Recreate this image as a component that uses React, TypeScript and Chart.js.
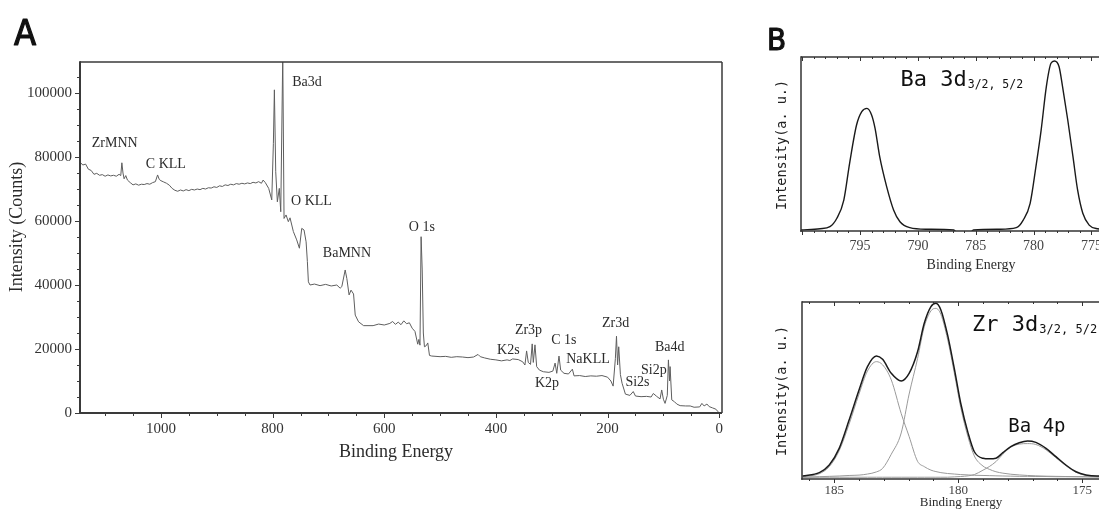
import React, { useEffect, useRef } from "react";
import { Chart, registerables } from "chart.js";

Chart.register(...registerables);

const SERIF = '"Liberation Serif", "Times New Roman", serif';
const MONO = '"DejaVu Sans Mono", "Liberation Mono", monospace';
const LETTER = '"Liberation Sans Narrow", "DejaVu Sans Condensed", "Liberation Sans", sans-serif';

// ---------------- Panel A : survey spectrum ----------------
const surveyEnergy = [
  1145, 1140, 1135, 1130, 1125, 1120, 1115, 1110, 1105, 1100, 1095, 1090, 1085, 1080, 1075, 1072, 1070, 1068, 1066, 1063,
  1060, 1055, 1050, 1045, 1040, 1035, 1030, 1025, 1020, 1015, 1010, 1006, 1003, 1000, 995, 990, 985, 980, 975, 970,
  965, 960, 955, 950, 945, 940, 935, 930, 925, 920, 915, 910, 905, 900, 895, 890, 885, 880, 875, 870,
  865, 860, 855, 850, 845, 840, 835, 830, 825, 820, 817, 813, 807, 801.5, 798.6, 796.8, 794.4, 791.5, 788, 785.4,
  781.8, 779.5, 775.9, 771.8, 768.8, 762.8, 756.8, 752, 747.8, 743.7, 740, 737.7, 735.9, 733, 725, 715, 705, 695,
  685, 679, 676, 670, 667, 663, 659.5, 655, 652, 646, 637, 620, 610, 600, 590, 585, 580, 575, 570, 565,
  560, 555, 550, 545, 540, 538, 536, 534, 532, 530, 528, 525, 522, 519, 515, 500, 490, 480, 470, 460,
  450, 440, 432, 428, 420, 410, 400, 390, 380, 375, 370, 360, 352, 348, 345, 342, 338, 335, 333, 330,
  327, 322, 315, 305, 298, 294, 291, 287, 284, 278, 270, 263, 260, 250, 240, 230, 220, 210, 200, 194,
  190, 186, 184, 182, 180, 177, 174, 168, 160, 154, 150, 140, 130, 122, 118, 112, 106, 103, 100, 97,
  93, 91, 89, 88, 85, 80, 76, 70, 60, 52, 45, 35, 31, 27, 22, 18, 12, 6, 2, 0,
];
const surveyCounts = [
  78400, 77500, 77800, 76200, 75800, 74600, 74900, 74300, 74500, 74000, 74400, 74100, 74300, 74000, 74600, 74200, 78200, 75000, 73200, 74200,
  72800, 72000, 71300, 71600, 71200, 71500, 71400, 71700, 71500, 72000, 72300, 74400, 73000, 72600, 72200, 71800, 71200, 70200, 69600, 69300,
  69700, 69400, 69800, 69500, 69900, 69700, 70000, 69800, 70200, 70000, 70400, 70300, 70700, 70500, 71000, 70800, 71300, 71100, 71500, 71300,
  71700, 71500, 71800, 71600, 71900, 71700, 72100, 71900, 72300, 71800, 72800, 72000, 70200, 66600, 84300, 101000, 75400, 66000, 70200, 62900,
  112000, 60800, 61900, 59800, 61000, 56700, 54100, 51500, 57700, 57200, 53500, 47300, 41000, 40000, 40300, 39800, 40200, 39700,
  40000, 39000, 39500, 44700, 42000, 36900, 38400, 37200, 30600, 28500, 27300, 27300, 27800, 27500, 28000, 28600, 27700, 28400, 27600, 28800,
  27900, 28200, 26500, 25500, 21500, 23000, 21200, 55100, 44700, 25000, 20700, 21000, 21900, 18000, 17800, 17600, 17700, 17400, 17600, 17500,
  17300, 17500, 18300, 17600, 17200, 16800, 16600, 16300, 16600, 16400, 16900, 16700, 16000, 15000, 19400, 15800, 15200, 21600, 15800, 21300,
  14500, 13400, 12900, 12700, 13100, 15600, 12400, 17800, 13400, 12400, 12200, 13700, 11600, 11700, 11400, 11600, 11500, 11700, 11200, 10000,
  8400, 17000, 24000, 15000, 20700, 12000, 9300, 5900, 5500, 6700, 5300, 5100, 5200, 5000, 6100, 5200, 4400, 7200, 4300, 3000,
  5500, 16600, 10000, 14500, 4100, 3500, 2800, 2300, 2200, 2200, 1800, 1900, 3000, 2200, 2800, 2000, 1600, 1200, 400, 0,
];
const surveyXTicks = [1000, 800, 600, 400, 200, 0];
const surveyYTicks = [0, 20000, 40000, 60000, 80000, 100000];
const surveyPeakNames = ["Ba3d", "ZrMNN", "C KLL", "O KLL", "BaMNN", "O 1s", "K2s", "Zr3p", "C 1s", "NaKLL", "K2p", "Zr3d", "Ba4d", "Si2p", "Si2s"];
const surveyPeakEnergy = [765, 1124, 1027, 767, 710, 556, 398, 366, 301, 274, 330, 210, 115, 140, 168];
const surveyPeakCounts = [103400, 84400, 77800, 66250, 50000, 58100, 19700, 25900, 22800, 16900, 9400, 28100, 20600, 13400, 9700];

// ---------------- Panel B (top) : Ba 3d ----------------
const ba3dEnergy = [
  773.4, 774.5, 775.2, 775.75, 776.2, 776.6, 777.05, 777.5, 777.8, 778.2, 778.5, 778.9, 779.35, 779.8, 780.3, 780.9, 781.5, 782.9, 785.2, 785.5,
  786.6, 786.9, 789.25, 790.7, 791.55, 792.1, 792.7, 793.3, 793.7, 794.0, 794.4, 794.85, 795.3, 795.9, 796.4, 797.0, 797.6, 798.45, 800.1,
];
const ba3dIntensity = [
  0.008, 0.013, 0.034, 0.102, 0.236, 0.427, 0.638, 0.83, 0.944, 0.977, 0.964, 0.83, 0.58, 0.37, 0.159, 0.063, 0.019, 0.01, 0.006, -0.01,
  -0.01, 0.006, 0.01, 0.019, 0.053, 0.121, 0.255, 0.427, 0.59, 0.667, 0.705, 0.686, 0.609, 0.389, 0.178, 0.073, 0.025, 0.013, 0.006,
];
const ba3dXTicks = [795, 790, 785, 780, 775];

// ---------------- Panel B (bottom) : Zr 3d + Ba 4p ----------------
const zrEnergy = [
  173.9, 174.4, 174.85, 175.25, 175.66, 176.06, 176.46, 176.87, 177.2, 177.54, 177.88, 178.2, 178.48, 178.75, 179.0, 179.35, 179.6, 179.9, 180.16, 180.43,
  180.7, 180.9, 181.1, 181.37, 181.64, 181.98, 182.3, 182.7, 183.05, 183.3, 183.66, 184.0, 184.4, 184.8, 185.2, 185.6, 186.28,
];
const zrEnvelope = [
  0.017, 0.017, 0.023, 0.041, 0.079, 0.126, 0.173, 0.207, 0.215, 0.205, 0.183, 0.149, 0.117, 0.114, 0.117, 0.154, 0.258, 0.428, 0.625, 0.814,
  0.955, 0.993, 0.974, 0.88, 0.719, 0.597, 0.554, 0.597, 0.676, 0.695, 0.635, 0.503, 0.333, 0.173, 0.079, 0.036, 0.017,
];
const zr32Fit = [
  0.012, 0.012, 0.012, 0.013, 0.013, 0.013, 0.014, 0.014, 0.015, 0.015, 0.016, 0.017, 0.018, 0.019, 0.02, 0.021, 0.023, 0.025, 0.028, 0.031,
  0.036, 0.042, 0.05, 0.07, 0.1, 0.24, 0.37, 0.56, 0.645, 0.663, 0.61, 0.48, 0.31, 0.16, 0.07, 0.03, 0.012,
];
const zr52Fit = [
  0.012, 0.012, 0.013, 0.013, 0.014, 0.015, 0.016, 0.018, 0.02, 0.023, 0.027, 0.033, 0.041, 0.055, 0.073, 0.13, 0.235, 0.405, 0.6, 0.79,
  0.93, 0.964, 0.95, 0.86, 0.68, 0.48, 0.26, 0.14, 0.06, 0.04, 0.028, 0.022, 0.02, 0.017, 0.015, 0.013, 0.01,
];
const ba4pFit = [
  0.012, 0.013, 0.02, 0.038, 0.075, 0.12, 0.165, 0.195, 0.2, 0.197, 0.18, 0.14, 0.098, 0.07, 0.05, 0.025, 0.018, 0.014, 0.012, 0.01,
  0.01, 0.01, 0.01, 0.01, 0.01, 0.01, 0.01, 0.01, 0.01, 0.01, 0.01, 0.01, 0.01, 0.01, 0.01, 0.01, 0.01,
];
const zrXTicks = [185, 180, 175];

// ---------------- helpers ----------------
type TickSpec = { axis: "x" | "y"; side: "bottom" | "top" | "left"; step: number; major: number; majorLen: number; minorLen: number; dir: number };
type FrameSpec = { color: string; left: number; bottom: number; top: number; right: number };
type DataLabel = { text: string; x: number; y: number; font: string; color: string; sub?: string; subFont?: string; subDy?: number };
type PixLabel = {
  text: string; x: number; y: number; font: string; color: string;
  rotate?: boolean; align?: CanvasTextAlign; baseline?: CanvasTextBaseline; stroke?: number;
};

function makeOverlay(name: string, ticks: TickSpec[], frame: FrameSpec, dataLabels: DataLabel[], pixLabels: PixLabel[]) {
  return {
    id: "overlay_" + name,
    afterDraw(chart: any) {
      const { ctx, chartArea: a, scales } = chart;
      ctx.save();
      ctx.strokeStyle = frame.color;
      ctx.lineWidth = 1;
      for (const t of ticks) {
        const sc = scales[t.axis];
        const lo = Math.min(sc.min, sc.max);
        const hi = Math.max(sc.min, sc.max);
        const n0 = Math.ceil(lo / t.step - 1e-9);
        const n1 = Math.floor(hi / t.step + 1e-9);
        for (let n = n0; n <= n1; n++) {
          const v = n * t.step;
          const isMajor = Math.abs(v / t.major - Math.round(v / t.major)) < 1e-6;
          const len = isMajor ? t.majorLen : t.minorLen;
          const p = Math.round(sc.getPixelForValue(v)) + 0.5;
          ctx.beginPath();
          if (t.side === "bottom") {
            ctx.moveTo(p, a.bottom);
            ctx.lineTo(p, a.bottom + t.dir * len);
          } else if (t.side === "top") {
            ctx.moveTo(p, a.top);
            ctx.lineTo(p, a.top - t.dir * len);
          } else {
            ctx.moveTo(a.left, p);
            ctx.lineTo(a.left - t.dir * len, p);
          }
          ctx.stroke();
        }
      }
      const seg = (x1: number, y1: number, x2: number, y2: number, w: number) => {
        if (w <= 0) return;
        ctx.lineWidth = w;
        ctx.beginPath();
        ctx.moveTo(x1, y1);
        ctx.lineTo(x2, y2);
        ctx.stroke();
      };
      ctx.strokeStyle = frame.color;
      seg(a.left, a.top, a.right, a.top, frame.top);
      seg(a.right, a.top, a.right, a.bottom, frame.right);
      seg(a.left, a.top - frame.top / 2, a.left, a.bottom + frame.bottom / 2, frame.left);
      seg(a.left - frame.left / 2, a.bottom, a.right, a.bottom, frame.bottom);
      for (const l of dataLabels) {
        const px = scales.x.getPixelForValue(l.x);
        const py = scales.y.getPixelForValue(l.y);
        ctx.fillStyle = l.color;
        ctx.font = l.font;
        ctx.textAlign = "left";
        ctx.textBaseline = "middle";
        ctx.fillText(l.text, px, py);
        if (l.sub && l.subFont) {
          const w = ctx.measureText(l.text).width;
          ctx.font = l.subFont;
          ctx.fillText(l.sub, px + w + 1, py + (l.subDy || 5));
        }
      }
      for (const l of pixLabels) {
        ctx.save();
        ctx.fillStyle = l.color;
        ctx.strokeStyle = l.color;
        ctx.font = l.font;
        ctx.textAlign = l.align || "center";
        ctx.textBaseline = l.baseline || "middle";
        ctx.translate(l.x, l.y);
        if (l.rotate) ctx.rotate(-Math.PI / 2);
        ctx.fillText(l.text, 0, 0);
        if (l.stroke) {
          ctx.lineWidth = l.stroke;
          ctx.lineJoin = "round";
          ctx.strokeText(l.text, 0, 0);
        }
        ctx.restore();
      }
      ctx.restore();
    },
  };
}

function toPoints(xs: number[], ys: number[]) {
  return xs.map((x, i) => ({ x, y: ys[i] }));
}

function fixedTicks(values: number[]) {
  return (s: any) => {
    s.ticks = values.map((v) => ({ value: v }));
  };
}

function ChartCanvas(props: { left: number; top: number; width: number; height: number; build: (c: HTMLCanvasElement) => Chart }) {
  const ref = useRef<HTMLCanvasElement | null>(null);
  useEffect(() => {
    if (!ref.current) return;
    const chart = props.build(ref.current);
    return () => chart.destroy();
  }, []);
  return (
    <canvas
      ref={ref}
      width={props.width}
      height={props.height}
      style={{ position: "absolute", left: props.left, top: props.top, width: props.width, height: props.height }}
    />
  );
}

const TEXT = "#2b2b2b";

function buildSurvey(canvas: HTMLCanvasElement) {
  const overlay = makeOverlay(
    "survey",
    [
      { axis: "x", side: "bottom", step: 50, major: 200, majorLen: 5, minorLen: 3, dir: 1 },
      { axis: "y", side: "left", step: 5000, major: 20000, majorLen: 5, minorLen: 3, dir: 1 },
    ],
    { color: "#3a3a3a", left: 2, bottom: 2, top: 1.5, right: 1.5 },
    surveyPeakNames.map((t, i) => ({ text: t, x: surveyPeakEnergy[i], y: surveyPeakCounts[i], font: `14px ${SERIF}`, color: TEXT })),
    [
      { text: "A", x: 14, y: 45, font: `36px ${LETTER}`, color: "#111", align: "left", baseline: "alphabetic", stroke: 1.2 },
      { text: "Binding Energy", x: 396, y: 452, font: `18px ${SERIF}`, color: TEXT },
      { text: "Intensity (Counts)", x: 17, y: 227, font: `18px ${SERIF}`, color: TEXT, rotate: true },
    ]
  );
  return new Chart(canvas, {
    type: "line",
    data: {
      datasets: [
        {
          data: toPoints(surveyEnergy, surveyCounts),
          borderColor: "#5e5e5e",
          borderWidth: 1,
          pointRadius: 0,
          tension: 0,
        },
      ],
    },
    options: {
      animation: false,
      responsive: false,
      devicePixelRatio: 1,
      layout: { padding: { top: 62, right: 18, left: 0, bottom: 0 } },
      plugins: { legend: { display: false }, tooltip: { enabled: false } },
      scales: {
        x: {
          type: "linear",
          reverse: true,
          min: -5,
          max: 1145,
          afterBuildTicks: fixedTicks(surveyXTicks),
          afterFit: (s: any) => {
            s.height = 67;
          },
          grid: { display: false, drawTicks: false },
          border: { display: false },
          ticks: {
            padding: 7,
            maxRotation: 0,
            autoSkip: false,
            color: "#333",
            font: { family: SERIF, size: 15 },
            callback: (v: any) => String(v),
          },
        },
        y: {
          type: "linear",
          min: 0,
          max: 109700,
          afterBuildTicks: fixedTicks(surveyYTicks),
          afterFit: (s: any) => {
            s.width = 80;
          },
          grid: { display: false, drawTicks: false },
          border: { display: false },
          ticks: {
            padding: 8,
            autoSkip: false,
            color: "#333",
            font: { family: SERIF, size: 15 },
            callback: (v: any) => String(v),
          },
        },
      },
    },
    plugins: [overlay as any],
  });
}

function buildBa3d(canvas: HTMLCanvasElement) {
  const overlay = makeOverlay(
    "ba3d",
    [
      { axis: "x", side: "bottom", step: 1, major: 5, majorLen: 4, minorLen: 2, dir: 1 },
      { axis: "x", side: "top", step: 1, major: 5, majorLen: 4, minorLen: 2, dir: -1 },
    ],
    { color: "#333", left: 1.5, bottom: 1.5, top: 1.5, right: 1.5 },
    [{ text: "Ba 3d", x: 791.5, y: 0.868, font: `22px ${MONO}`, color: "#111", sub: "3/2, 5/2", subFont: `11.5px ${MONO}`, subDy: 5 }],
    [
      { text: "B", x: 27, y: 50, font: `31px ${LETTER}`, color: "#111", align: "left", baseline: "alphabetic", stroke: 1.1 },
      { text: "Intensity(a. u.)", x: 42, y: 145, font: `13.5px ${MONO}`, color: "#222", rotate: true },
      { text: "Binding Energy", x: 231, y: 265, font: `14px ${SERIF}`, color: TEXT },
    ]
  );
  return new Chart(canvas, {
    type: "line",
    data: {
      datasets: [
        {
          data: toPoints(ba3dEnergy, ba3dIntensity),
          borderColor: "#1a1a1a",
          borderWidth: 1.4,
          pointRadius: 0,
          cubicInterpolationMode: "monotone",
        },
      ],
    },
    options: {
      animation: false,
      responsive: false,
      devicePixelRatio: 1,
      layout: { padding: { top: 57, right: 10, left: 0, bottom: 0 } },
      plugins: { legend: { display: false }, tooltip: { enabled: false } },
      scales: {
        x: {
          type: "linear",
          reverse: true,
          min: 773.4,
          max: 800.1,
          afterBuildTicks: fixedTicks(ba3dXTicks),
          afterFit: (s: any) => {
            s.height = 49;
          },
          grid: { display: false, drawTicks: false },
          border: { display: false },
          ticks: {
            padding: 7,
            maxRotation: 0,
            autoSkip: false,
            color: "#444",
            font: { family: SERIF, size: 14 },
            callback: (v: any) => String(v),
          },
        },
        y: {
          type: "linear",
          min: 0,
          max: 1,
          afterFit: (s: any) => {
            s.width = 61;
          },
          grid: { display: false, drawTicks: false },
          border: { display: false },
          ticks: { display: false },
        },
      },
    },
    plugins: [overlay as any],
  });
}

function buildZr(canvas: HTMLCanvasElement) {
  const overlay = makeOverlay(
    "zr3d",
    [
      { axis: "x", side: "bottom", step: 1, major: 5, majorLen: 4, minorLen: 2, dir: 1 },
      { axis: "x", side: "top", step: 1, major: 5, majorLen: 4, minorLen: 2, dir: -1 },
    ],
    { color: "#333", left: 1.5, bottom: 1.5, top: 1.5, right: 1.5 },
    [
      { text: "Zr 3d", x: 179.44, y: 0.87, font: `22px ${MONO}`, color: "#111", sub: "3/2, 5/2", subFont: `12px ${MONO}`, subDy: 5 },
      { text: "Ba 4p", x: 177.98, y: 0.294, font: `19px ${MONO}`, color: "#111" },
    ],
    [
      { text: "Intensity(a. u.)", x: 42, y: 111, font: `13.5px ${MONO}`, color: "#222", rotate: true },
      { text: "Binding Energy", x: 221, y: 223, font: `13px ${SERIF}`, color: TEXT },
    ]
  );
  const grey = { borderColor: "#9a9a9a", borderWidth: 1, pointRadius: 0, cubicInterpolationMode: "monotone" as const };
  return new Chart(canvas, {
    type: "line",
    data: {
      datasets: [
        {
          data: toPoints(zrEnergy, zrEnvelope),
          borderColor: "#1a1a1a",
          borderWidth: 1.5,
          pointRadius: 0,
          cubicInterpolationMode: "monotone",
        },
        { data: toPoints(zrEnergy, zr32Fit), ...grey },
        { data: toPoints(zrEnergy, zr52Fit), ...grey },
        { data: toPoints(zrEnergy, ba4pFit), ...grey },
      ],
    },
    options: {
      animation: false,
      responsive: false,
      devicePixelRatio: 1,
      layout: { padding: { top: 22, right: 10, left: 0, bottom: 0 } },
      plugins: { legend: { display: false }, tooltip: { enabled: false } },
      scales: {
        x: {
          type: "linear",
          reverse: true,
          min: 173.88,
          max: 186.3,
          afterBuildTicks: fixedTicks(zrXTicks),
          afterFit: (s: any) => {
            s.height = 41;
          },
          grid: { display: false, drawTicks: false },
          border: { display: false },
          ticks: {
            padding: 4,
            maxRotation: 0,
            autoSkip: false,
            color: "#444",
            font: { family: SERIF, size: 13 },
            callback: (v: any) => String(v),
          },
        },
        y: {
          type: "linear",
          min: 0,
          max: 1,
          afterFit: (s: any) => {
            s.width = 62;
          },
          grid: { display: false, drawTicks: false },
          border: { display: false },
          ticks: { display: false },
        },
      },
    },
    plugins: [overlay as any],
  });
}

export default function App() {
  return (
    <div style={{ position: "fixed", left: 0, top: 0, width: 1099, height: 520, overflow: "hidden", background: "#fff" }}>
      <ChartCanvas left={0} top={0} width={740} height={480} build={buildSurvey} />
      <ChartCanvas left={740} top={0} width={380} height={280} build={buildBa3d} />
      <ChartCanvas left={740} top={280} width={380} height={240} build={buildZr} />
    </div>
  );
}
